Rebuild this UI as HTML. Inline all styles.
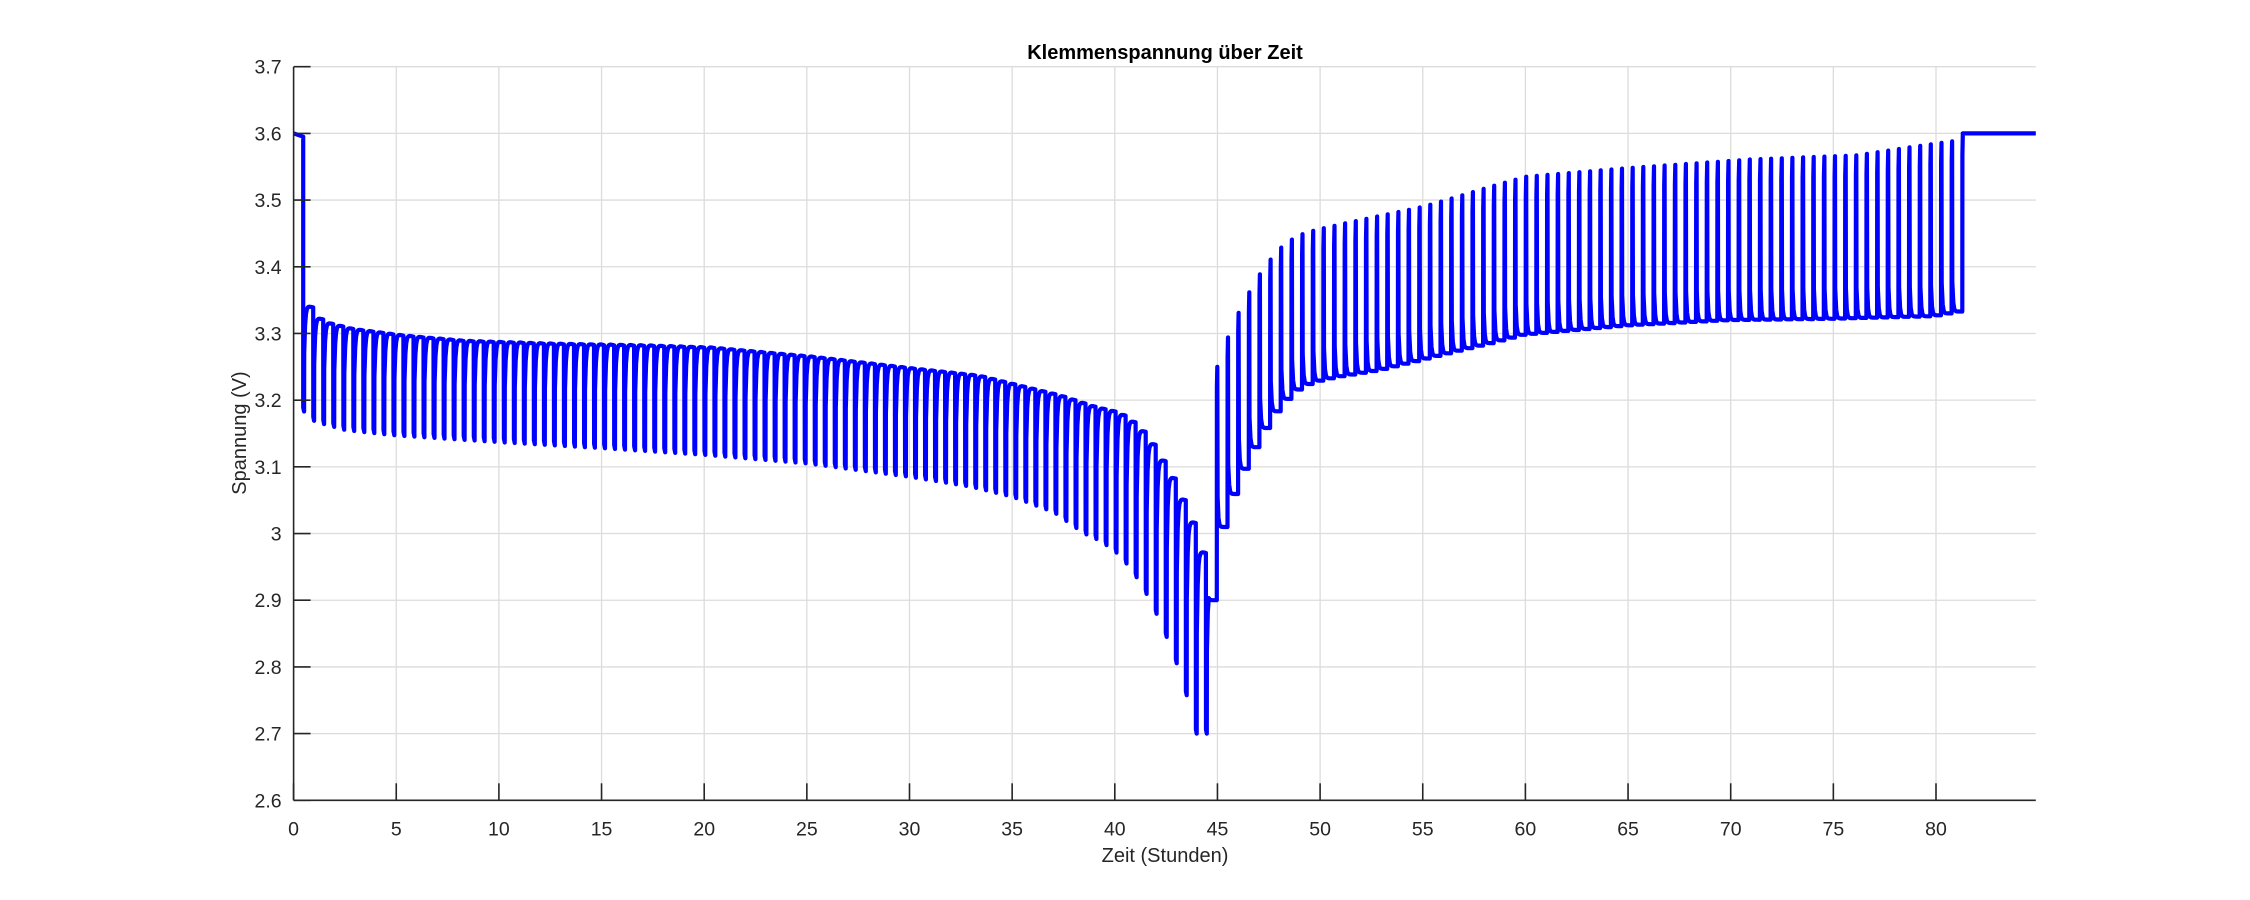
<!DOCTYPE html>
<html><head><meta charset="utf-8"><style>
html,body{margin:0;padding:0;background:#fff;}
svg{display:block;font-family:"Liberation Sans",Arial,sans-serif;}
</style></head><body>
<svg id="s" width="2250" height="900" viewBox="0 0 2250 900" xmlns="http://www.w3.org/2000/svg">
<rect width="2250" height="900" fill="#fff"/>
<g id="grid" stroke="#dcdcdc" stroke-width="1.3"></g>
<path id="data" fill="none" stroke="#0000ff" stroke-width="4.2" stroke-linejoin="round"/>
<g id="axes" stroke="#262626" stroke-width="1.6"></g>
<g id="labels" fill="#262626" font-size="19.5"></g>
<text x="1165" y="59" text-anchor="middle" font-size="20" font-weight="bold" fill="#000">Klemmenspannung über Zeit</text>
<text x="1165" y="862" text-anchor="middle" font-size="20" fill="#262626">Zeit (Stunden)</text>
<text transform="translate(246,433) rotate(-90)" text-anchor="middle" font-size="20" fill="#262626">Spannung (V)</text>
</svg>
<script>
var X0=293.6,XS=20.53,XR=2035.8,YT=66.7,YB=800.3;
function X(t){return X0+XS*t;}
function Y(v){return YT+(3.7-v)*(YB-YT)/1.1;}
var ns="http://www.w3.org/2000/svg";
function el(p,n,a,txt){var e=document.createElementNS(ns,n);for(var k in a)e.setAttribute(k,a[k]);if(txt!==undefined)e.textContent=txt;p.appendChild(e);return e;}
var g=document.getElementById('grid'),ax=document.getElementById('axes'),lb=document.getElementById('labels');
for(var i=0;i<=11;i++){var v=2.6+i*0.1,y=Y(v);
 if(i>0)el(g,'line',{x1:X0,x2:XR,y1:y,y2:y});
 el(ax,'line',{x1:X0,x2:X0+17,y1:y,y2:y});
 var s=(Math.round(v*10)/10).toString();
 el(lb,'text',{x:X0-12,y:y+7,'text-anchor':'end'},s);}
for(var t=0;t<=80;t+=5){var x=X(t);
 if(t>0)el(g,'line',{x1:x,x2:x,y1:YT,y2:YB});
 el(ax,'line',{x1:x,x2:x,y1:YB,y2:YB-17});
 el(lb,'text',{x:x,y:YB+35,'text-anchor':'middle'},String(t));}
el(ax,'line',{x1:X0,x2:X0,y1:YT,y2:YB});
el(ax,'line',{x1:X0,x2:XR,y1:YB,y2:YB});
function interp(a,t){if(t<=a[0][0])return a[0][1];for(var i=1;i<a.length;i++){if(t<=a[i][0]){var f=(t-a[i-1][0])/(a[i][0]-a[i-1][0]);return a[i-1][1]+f*(a[i][1]-a[i-1][1]);}}return a[a.length-1][1];}
var dBot=[[0.47,3.183],[0.96,3.169],[1.45,3.164],[2.5,3.155],[5,3.147],[10,3.137],[15,3.128],[20,3.118],[25,3.105],[30,3.085],[33,3.07],[35,3.055],[37,3.032],[38.47,3.0],[38.95,2.994],[39.44,2.985],[39.93,2.975],[40.41,2.96],[40.93,2.939],[41.45,2.913],[41.95,2.883],[42.46,2.847],[42.96,2.807],[43.46,2.758],[43.95,2.7],[44.44,2.7]];
var dTop=[[0.47,3.343],[0.96,3.325],[1.45,3.318],[2.5,3.31],[5,3.30],[8,3.292],[12,3.288],[17,3.285],[20,3.282],[25,3.268],[30,3.25],[33,3.24],[35,3.225],[37,3.21],[38.47,3.195],[38.95,3.191],[39.44,3.188],[39.93,3.183],[40.41,3.174],[40.93,3.16],[41.45,3.14],[41.95,3.115],[42.46,3.088],[42.96,3.055],[43.46,3.02],[43.95,2.975],[44.44,2.923]];
var cTop=[[44.97,3.25],[45.49,3.294],[46.01,3.331],[46.53,3.362],[47.05,3.389],[47.57,3.411],[48.09,3.429],[48.61,3.441],[49.13,3.449],[49.65,3.454],[50.17,3.458],[51.2,3.465],[53,3.477],[55,3.49],[57,3.508],[58.5,3.522],[60,3.535],[65,3.548],[71,3.561],[76.1,3.567],[78.7,3.579],[80.77,3.588],[81.28,3.598]];
var cBot=[[45.45,3.008],[45.97,3.058],[46.49,3.096],[47.0,3.128],[47.5,3.156],[48.0,3.181],[48.55,3.201],[49.1,3.216],[49.6,3.224],[50.1,3.229],[51,3.235],[53,3.245],[55,3.26],[57,3.275],[58.5,3.286],[60,3.298],[65,3.312],[70,3.32],[75,3.322],[80,3.326],[81.28,3.333]];
var pts=[];function P(t,v){pts.push(X(t).toFixed(1)+','+Y(v).toFixed(1));}
P(0,3.6);P(0.47,3.595);
var N=91,dt=(44.44-0.47)/90;
for(var j=0;j<N;j++){var t0=0.47+j*dt,b=interp(dBot,t0),tp=interp(dTop,t0);
 var t1=(j<N-1)?t0+dt:44.95;
 P(t0,b+0.006);P(t0+0.04,b);
 var start=b+(tp-b)*0.55;
 for(var k=0;k<=10;k++){var tt=t0+0.045+k*(t1-t0-0.05)/10;var e=Math.exp(-(tt-t0-0.045)/0.05);
  var v=tp-(tp-start)*e-0.004*(tt-t0)/dt; if(j==N-1)v=Math.min(v,2.90+0.02*e);P(tt,v);}
}
var M=71,ct=(81.28-44.97)/70;
var prevB=2.90;
for(var k=0;k<M;k++){var t0=44.97+k*ct,tp=interp(cTop,t0);
 var t1=t0+ct,b=interp(cBot,t1-0.02);
 P(t0,prevB);P(t0+0.005,tp-0.03);P(t0+0.025,tp);
 if(k==M-1){P(t0+0.035,tp);break;}
 P(t0+0.035,b+0.045);
 for(var q=1;q<=10;q++){var tt=t0+0.035+q*(ct-0.04)/10;P(tt,b+0.045*Math.exp(-(tt-t0-0.035)/0.04));}
 prevB=b;}
P(81.3,3.6);P(84.86,3.6);
document.getElementById('data').setAttribute('d','M'+pts.join('L'));
</script>
</body></html>
